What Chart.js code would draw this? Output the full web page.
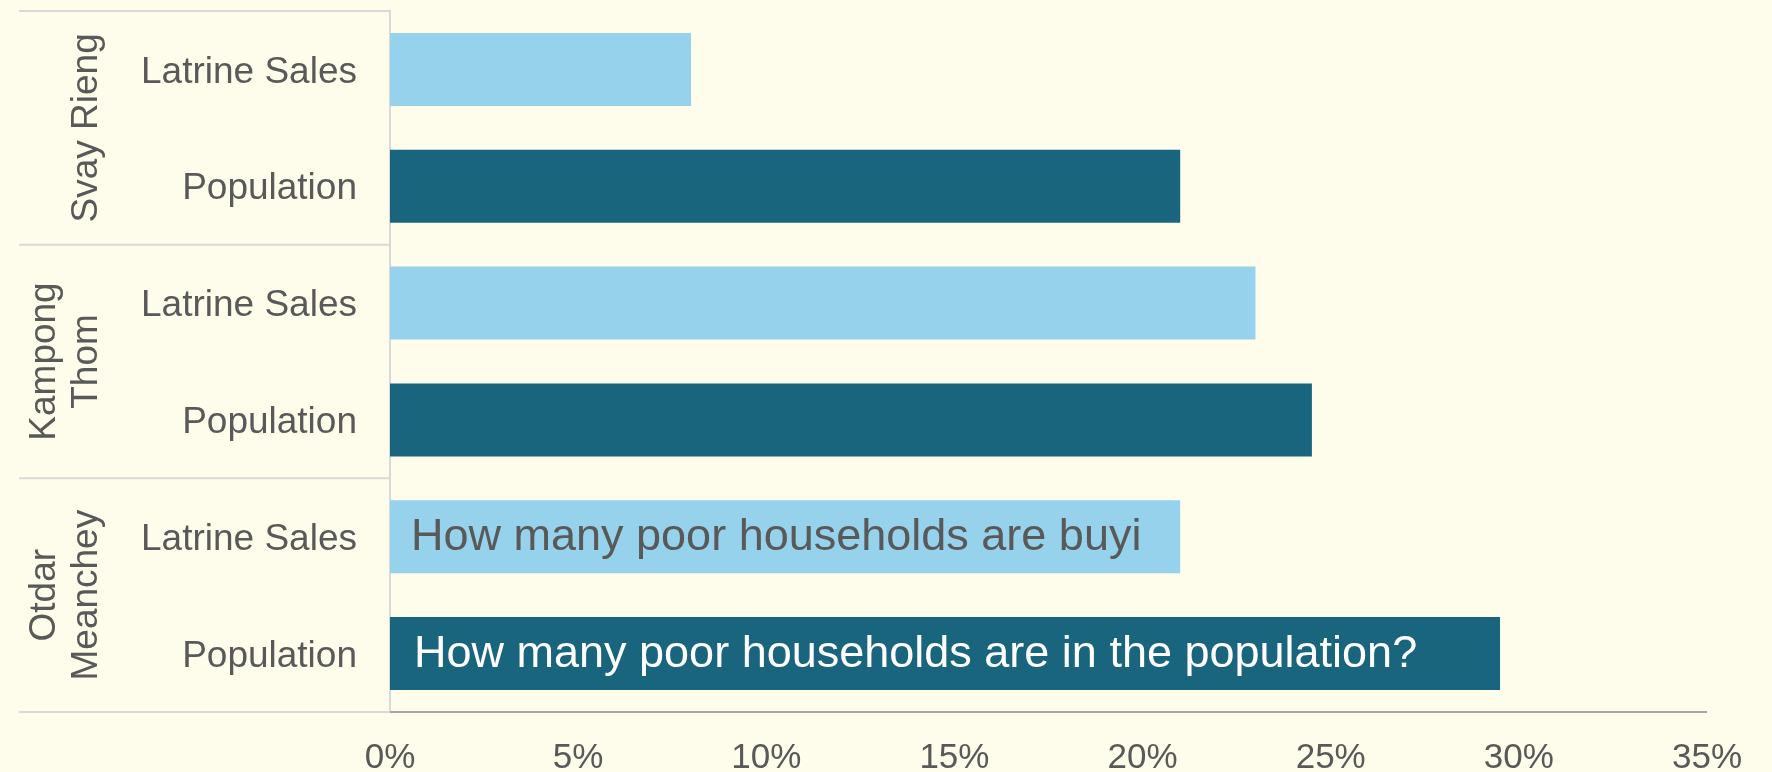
<!DOCTYPE html>
<html>
<head>
<meta charset="utf-8">
<script src="https://cdn.jsdelivr.net/npm/chart.js@4/dist/chart.umd.min.js"></script>
<style>
  html, body { margin: 0; padding: 0; background: #fefdec; }
  #wrap { width: 1772px; height: 772px; }
</style>
</head>
<body>
<div id="wrap"><canvas id="chart"></canvas></div>
<script>
var groupLines = [['Svay Rieng'], ['Kampong', 'Thom'], ['Otdar', 'Meanchey']],
    rowNames = ['Latrine Sales', 'Population'],
    latrineSales = [8, 23, 21],
    population = [21, 24.5, 29.5],
    rowColors = ['#97d2ec', '#1a657e'],
    noteRowIndex = [4, 5],
    noteTexts = ['How many poor households are buyi', 'How many poor households are in the population?'],
    noteColors = ['#595959', '#ffffff'],
    xMin = 0, xMax = 35, xStep = 5;

var labels = [], values = [], colors = [];
for (var g = 0; g < groupLines.length; g++) {
    labels.push(rowNames[0]); values.push(latrineSales[g]); colors.push(rowColors[0]);
    labels.push(rowNames[1]); values.push(population[g]); colors.push(rowColors[1]);
}

var textGrey = '#595959',
    font = '"Liberation Sans", Arial, sans-serif';

// group labels on the left, separators, and the notes inside the bars
var groupPlugin = {
    id: 'groups',
    afterDraw: function(chart) {
        var ctx = chart.ctx,
            y = chart.scales.y,
            area = chart.chartArea,
            left = y.left;
        ctx.save();
        ctx.strokeStyle = '#d9d9d9';
        ctx.lineWidth = 2;
        var edges = [area.top];
        for (var g = 1; g < groupLines.length; g++) {
            edges.push((y.getPixelForValue(g * 2 - 1) + y.getPixelForValue(g * 2)) / 2);
        }
        edges.push(area.bottom);
        edges.forEach(function(e) {
            ctx.beginPath();
            ctx.moveTo(left, e);
            ctx.lineTo(area.left, e);
            ctx.stroke();
        });
        // bottom axis line over plot
        ctx.strokeStyle = '#a6a6a6';
        ctx.beginPath();
        ctx.moveTo(area.left, area.bottom);
        ctx.lineTo(area.right, area.bottom);
        ctx.stroke();

        ctx.fillStyle = textGrey;
        ctx.font = '37px ' + font;
        ctx.textAlign = 'center';
        ctx.textBaseline = 'middle';
        for (g = 0; g < groupLines.length; g++) {
            var cy = (edges[g] + edges[g + 1]) / 2,
                lines = groupLines[g];
            for (var i = 0; i < lines.length; i++) {
                var cx = 87 - (lines.length - 1 - i) * 42;
                ctx.save();
                ctx.translate(cx, cy);
                ctx.rotate(-Math.PI / 2);
                ctx.fillText(lines[i], 0, 0);
                ctx.restore();
            }
        }

        var bars = chart.getDatasetMeta(0).data;
        ctx.textAlign = 'left';
        ctx.font = '45px ' + font;
        for (i = 0; i < noteRowIndex.length; i++) {
            var bar = bars[noteRowIndex[i]];
            ctx.fillStyle = noteColors[i];
            ctx.fillText(noteTexts[i], bar.base + 21 + i * 3, bar.y + 1);
        }
        ctx.restore();
    }
};

new Chart(document.getElementById('chart'), {
    type: 'bar',
    data: {
        labels: labels,
        datasets: [{
            data: values,
            backgroundColor: colors,
            borderWidth: 0,
            categoryPercentage: 1,
            barPercentage: 0.625
        }]
    },
    options: {
        indexAxis: 'y',
        responsive: true,
        maintainAspectRatio: false,
        animation: false,
        layout: { padding: { top: 11, left: 19, right: 65, bottom: 0 } },
        plugins: { legend: { display: false }, tooltip: { enabled: false } },
        scales: {
            x: {
                min: xMin,
                max: xMax,
                afterFit: function(s) { s.height = 60; },
                grid: { display: false, drawTicks: false },
                border: { display: false },
                ticks: {
                    stepSize: xStep,
                    padding: 25,
                    color: textGrey,
                    font: { family: font, size: 35 },
                    callback: function(v) { return v + '%'; }
                }
            },
            y: {
                afterFit: function(s) {
                    s.width = 371;
                    s.paddingTop = 0;
                    s.paddingBottom = 0;
                },
                grid: { display: false, drawTicks: false },
                border: { display: true, color: '#d9d9d9', width: 2 },
                ticks: {
                    padding: 33,
                    labelOffset: 3,
                    color: textGrey,
                    font: { family: font, size: 37 }
                }
            }
        }
    },
    plugins: [groupPlugin]
});
</script>
</body>
</html>
